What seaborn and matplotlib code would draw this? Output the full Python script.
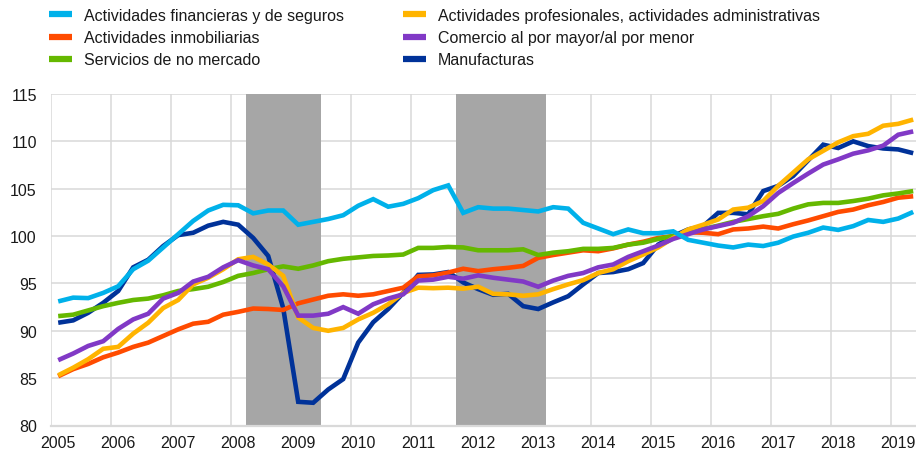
import numpy as np
import pandas as pd
import matplotlib
matplotlib.use("Agg")
import matplotlib.pyplot as plt
from matplotlib.lines import Line2D
import seaborn as sns

# ---- data (quarterly index, 2005Q1 .. 2019Q2) ----
years = list(range(2005, 2020))
quarters = [f"{y}Q{q}" for y in range(2005, 2020) for q in range(1, 5)][:58]

financieras = [93.1, 93.5, 93.45, 94.0, 94.7, 96.5, 97.4, 98.8, 100.2, 101.6,
               102.7, 103.3, 103.25, 102.4, 102.7, 102.7, 101.2, 101.5, 101.8, 102.2,
               103.2, 103.9, 103.1, 103.4, 104.0, 104.85, 105.35, 102.45, 103.05, 102.9,
               102.9, 102.75, 102.6, 103.05, 102.9, 101.4, 100.8, 100.2, 100.7, 100.3,
               100.3, 100.5, 99.6, 99.3, 99.0, 98.8, 99.1, 98.95, 99.3, 99.95,
               100.35, 100.9, 100.65, 101.05, 101.7, 101.5, 101.85, 102.55]
inmobiliarias = [85.2, 85.95, 86.5, 87.2, 87.7, 88.3, 88.75, 89.45, 90.15, 90.75,
                 90.95, 91.7, 92.0, 92.35, 92.3, 92.2, 92.9, 93.3, 93.7, 93.85,
                 93.7, 93.85, 94.2, 94.55, 95.75, 95.85, 96.15, 96.55, 96.3, 96.5,
                 96.65, 96.85, 97.7, 98.0, 98.25, 98.5, 98.4, 98.7, 99.1, 99.4,
                 99.8, 100.0, 100.4, 100.35, 100.2, 100.7, 100.8, 101.0, 100.8, 101.25,
                 101.65, 102.1, 102.55, 102.8, 103.25, 103.6, 104.05, 104.2]
no_mercado = [91.55, 91.7, 92.15, 92.6, 92.95, 93.25, 93.4, 93.75, 94.2, 94.4,
              94.65, 95.15, 95.8, 96.1, 96.5, 96.8, 96.55, 96.9, 97.35, 97.6,
              97.75, 97.9, 97.95, 98.05, 98.75, 98.75, 98.85, 98.8, 98.5, 98.5,
              98.5, 98.6, 98.0, 98.25, 98.4, 98.65, 98.65, 98.75, 99.1, 99.3,
              99.7, 100.0, 100.4, 100.75, 101.1, 101.5, 101.8, 102.1, 102.35, 102.9,
              103.35, 103.5, 103.5, 103.7, 103.95, 104.3, 104.5, 104.75]
profesionales = [85.3, 86.1, 87.0, 88.1, 88.3, 89.7, 90.85, 92.4, 93.25, 94.9,
                 95.6, 96.5, 97.55, 97.8, 97.0, 95.8, 91.4, 90.3, 90.0, 90.3,
                 91.2, 91.9, 92.8, 94.0, 94.55, 94.5, 94.55, 94.45, 94.65, 93.9,
                 93.85, 93.7, 93.85, 94.4, 94.9, 95.35, 96.1, 96.5, 97.35, 98.05,
                 98.8, 99.8, 100.7, 101.2, 101.75, 102.8, 103.0, 103.7, 105.3, 106.7,
                 108.1, 109.0, 109.9, 110.55, 110.8, 111.65, 111.85, 112.3]
comercio = [86.9, 87.6, 88.4, 88.9, 90.2, 91.2, 91.8, 93.4, 94.0, 95.2,
            95.7, 96.7, 97.45, 96.9, 96.5, 94.7, 91.6, 91.6, 91.8, 92.5,
            91.8, 92.8, 93.4, 93.85, 95.3, 95.4, 95.7, 95.5, 95.85, 95.6,
            95.4, 95.2, 94.65, 95.3, 95.8, 96.1, 96.7, 97.0, 97.8, 98.4,
            99.0, 99.7, 100.2, 100.7, 101.05, 101.4, 102.1, 103.15, 104.55, 105.6,
            106.6, 107.55, 108.1, 108.7, 109.05, 109.55, 110.7, 111.05]
manufacturas = [90.85, 91.1, 91.9, 92.95, 94.2, 96.7, 97.5, 98.95, 100.1, 100.35,
                101.1, 101.5, 101.2, 99.8, 97.9, 92.4, 82.5, 82.4, 83.8, 84.9,
                88.75, 90.9, 92.3, 94.0, 95.9, 95.95, 96.2, 95.1, 94.4, 93.8,
                93.9, 92.6, 92.3, 93.0, 93.65, 94.9, 96.1, 96.2, 96.5, 97.15,
                99.1, 100.0, 100.7, 101.05, 102.45, 102.45, 102.3, 104.75, 105.3, 106.35,
                108.0, 109.65, 109.3, 110.0, 109.5, 109.25, 109.15, 108.75]

labels = ["Actividades financieras y de seguros",
          "Actividades inmobiliarias",
          "Servicios de no mercado",
          "Actividades profesionales, actividades administrativas",
          "Comercio al por mayor/al por menor",
          "Manufacturas"]
colors = ["#00B1EA", "#FF4B00", "#65B800", "#FFB400", "#8139C6", "#003299"]
series = [financieras, inmobiliarias, no_mercado, profesionales, comercio, manufacturas]

# shaded periods (first and last quarter, inclusive)
shade_periods = [("2008Q2", "2009Q2"), ("2011Q4", "2013Q1")]

y_ticks = [80, 85, 90, 95, 100, 105, 110, 115]

# ---- build frame ----
qidx = {q: i for i, q in enumerate(quarters)}
frames = []
for lab, vals in zip(labels, series):
    frames.append(pd.DataFrame({"t": np.arange(len(vals)), "value": vals, "sector": lab}))
df = pd.concat(frames, ignore_index=True)

sns.set_theme(style="white")
plt.rcParams["font.family"] = ["Liberation Sans", "DejaVu Sans"]
plt.rcParams["text.color"] = "#1a1a1a"

W, H = 916, 452
fig = plt.figure(figsize=(W / 100, H / 100), dpi=100)
left_px, right_px, top_px, bot_px = 50.7, 916, 95, 426.5
ax = fig.add_axes([left_px / W, 1 - bot_px / H, (right_px - left_px) / W, (bot_px - top_px) / H])

# draw order: manufacturas at bottom, financieras on top
draw_order = [5, 1, 2, 3, 4, 0]
palette = dict(zip(labels, colors))
for k, idx in enumerate(draw_order):
    lab = labels[idx]
    sns.lineplot(data=df[df["sector"] == lab], x="t", y="value", color=palette[lab],
                 linewidth=3.3, ax=ax, legend=False, zorder=3 + k * 0.1,
                 solid_joinstyle="miter", solid_capstyle="butt")

for a, b in shade_periods:
    ax.axvspan(qidx[a] - 0.5, qidx[b] + 0.5, color="#A6A6A6", lw=0, zorder=2)

ax.set_xlim(-0.5, (right_px - 58.2) / 15)
ax.set_ylim(80, 115)
ax.set_yticks(y_ticks)
ax.set_xticks([qidx[f"{y}Q1"] for y in years])
ax.set_xticklabels([str(y) for y in years])
ax.set_xticks([qidx[f"{y}Q1"] - 0.5 for y in years], minor=True)
ax.grid(axis="y", which="major", color="#D9D9D9", lw=1.1, zorder=1)
ax.grid(axis="x", which="minor", color="#D9D9D9", lw=1.1, zorder=1)
ax.grid(axis="x", which="major", visible=False)
for s in ["top", "right", "left"]:
    ax.spines[s].set_visible(False)
ax.spines["bottom"].set_color("#D9D9D9")
ax.spines["bottom"].set_linewidth(1.6)
ax.spines["bottom"].set_zorder(2.5)
ax.tick_params(axis="both", which="both", length=0, labelsize=11.5, colors="#1a1a1a")
ax.tick_params(axis="y", pad=10)
ax.tick_params(axis="x", pad=7)
ax.set_xlabel("")
ax.set_ylabel("")
ax.set_facecolor("white")

# legends
handles = [Line2D([0], [0], color=c, lw=4.5, solid_capstyle="butt") for c in colors]
leg_kw = dict(frameon=False, fontsize=11.5, handlelength=1.45, handletextpad=0.75,
              labelspacing=0.45, borderaxespad=0, borderpad=0)
leg1 = fig.legend(handles[:3], labels[:3], loc="upper left",
                  bbox_to_anchor=(49 / W, 1 - 9 / H), **leg_kw)
leg2 = fig.legend(handles[3:], labels[3:], loc="upper left",
                  bbox_to_anchor=(403 / W, 1 - 9 / H), **leg_kw)

fig.savefig("out.png", dpi=100)
